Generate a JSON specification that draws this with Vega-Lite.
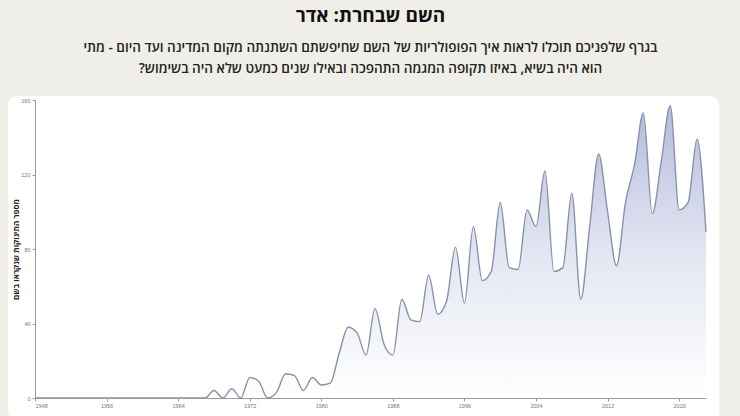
{
  "$schema": "https://vega.github.io/schema/vega-lite/v6.json",
  "autosize": "none",
  "width": 671,
  "height": 298,
  "padding": {"left": 35, "top": 100, "right": 34, "bottom": 18},
  "background": "#efeee8",
  "title": {
    "text": "השם שבחרת: אדר",
    "subtitle": [
      "בגרף שלפניכם תוכלו לראות איך הפופולריות של השם שחיפשתם השתנתה מקום המדינה ועד היום - מתי",
      "הוא היה בשיא, באיזו תקופה המגמה התהפכה ובאילו שנים כמעט שלא היה בשימוש?‏"
    ],
    "anchor": "middle",
    "font": "Open Sans, DejaVu Sans, sans-serif",
    "fontSize": 19,
    "fontWeight": "bold",
    "color": "#111111",
    "subtitleFont": "Open Sans, DejaVu Sans, sans-serif",
    "subtitleFontSize": 13.5,
    "subtitleFontWeight": 600,
    "subtitleColor": "#222222",
    "subtitleLineHeight": 21,
    "subtitlePadding": 15,
    "offset": 21
  },
  "data": {
    "values": [
      {"year": 1948, "count": 0}, {"year": 1949, "count": 0}, {"year": 1950, "count": 0},
      {"year": 1951, "count": 0}, {"year": 1952, "count": 0}, {"year": 1953, "count": 0},
      {"year": 1954, "count": 0}, {"year": 1955, "count": 0}, {"year": 1956, "count": 0},
      {"year": 1957, "count": 0}, {"year": 1958, "count": 0}, {"year": 1959, "count": 0},
      {"year": 1960, "count": 0}, {"year": 1961, "count": 0}, {"year": 1962, "count": 0},
      {"year": 1963, "count": 0}, {"year": 1964, "count": 0}, {"year": 1965, "count": 0},
      {"year": 1966, "count": 0}, {"year": 1967, "count": 0}, {"year": 1968, "count": 4},
      {"year": 1969, "count": 0}, {"year": 1970, "count": 5}, {"year": 1971, "count": 0},
      {"year": 1972, "count": 11}, {"year": 1973, "count": 9}, {"year": 1974, "count": 0},
      {"year": 1975, "count": 3}, {"year": 1976, "count": 13}, {"year": 1977, "count": 12},
      {"year": 1978, "count": 4}, {"year": 1979, "count": 11}, {"year": 1980, "count": 7},
      {"year": 1981, "count": 8}, {"year": 1982, "count": 24}, {"year": 1983, "count": 38},
      {"year": 1984, "count": 35}, {"year": 1985, "count": 23}, {"year": 1986, "count": 48},
      {"year": 1987, "count": 29}, {"year": 1988, "count": 23}, {"year": 1989, "count": 53},
      {"year": 1990, "count": 42}, {"year": 1991, "count": 41}, {"year": 1992, "count": 66},
      {"year": 1993, "count": 45}, {"year": 1994, "count": 52}, {"year": 1995, "count": 81},
      {"year": 1996, "count": 51}, {"year": 1997, "count": 92}, {"year": 1998, "count": 63},
      {"year": 1999, "count": 68}, {"year": 2000, "count": 105}, {"year": 2001, "count": 70},
      {"year": 2002, "count": 69}, {"year": 2003, "count": 101}, {"year": 2004, "count": 92},
      {"year": 2005, "count": 122}, {"year": 2006, "count": 68}, {"year": 2007, "count": 70},
      {"year": 2008, "count": 110}, {"year": 2009, "count": 53}, {"year": 2010, "count": 92},
      {"year": 2011, "count": 131}, {"year": 2012, "count": 100}, {"year": 2013, "count": 71},
      {"year": 2014, "count": 105}, {"year": 2015, "count": 125}, {"year": 2016, "count": 153},
      {"year": 2017, "count": 99}, {"year": 2018, "count": 127}, {"year": 2019, "count": 157},
      {"year": 2020, "count": 101}, {"year": 2021, "count": 105}, {"year": 2022, "count": 139},
      {"year": 2023, "count": 89}
    ]
  },
  "layer": [
    {
      "data": {"values": [{}]},
      "mark": {"type": "rect", "fill": "#ffffff", "cornerRadius": 9, "clip": false},
      "encoding": {
        "x": {"datum": 1945},
        "x2": {"datum": 2024.5},
        "y": {"datum": -12},
        "y2": {"datum": 162}
      }
    },
    {
      "mark": {
        "type": "area",
        "interpolate": "monotone",
        "color": {
          "gradient": "linear",
          "x1": 0, "y1": 0, "x2": 0, "y2": 1,
          "stops": [
            {"offset": 0, "color": "#b3bbdb"},
            {"offset": 0.5, "color": "#e3e6f2"},
            {"offset": 1, "color": "#ffffff"}
          ]
        }
      },
      "encoding": {
        "x": {"field": "year", "type": "quantitative"},
        "y": {"field": "count", "type": "quantitative"}
      }
    },
    {
      "mark": {"type": "line", "interpolate": "monotone", "color": "#8a92ab", "strokeWidth": 1.4},
      "encoding": {
        "x": {
          "field": "year",
          "type": "quantitative",
          "scale": {"domain": [1948, 2023], "nice": false, "zero": false},
          "axis": {
            "title": null,
            "values": [1948, 1956, 1964, 1972, 1980, 1988, 1996, 2004, 2012, 2020],
            "format": "d",
            "grid": false,
            "zindex": 1,
            "labelFontSize": 5.5,
            "labelColor": "#777777",
            "labelPadding": 2,
            "tickSize": 3,
            "tickColor": "#999999",
            "domainColor": "#999999"
          }
        },
        "y": {
          "field": "count",
          "type": "quantitative",
          "scale": {"domain": [0, 160], "nice": false},
          "axis": {
            "title": "מספר התינוקות שנקראו בשם",
            "values": [0, 40, 80, 120, 160],
            "grid": false,
            "zindex": 1,
            "labelFontSize": 5.5,
            "labelColor": "#777777",
            "labelPadding": 2,
            "tickSize": 3,
            "tickColor": "#999999",
            "domainColor": "#999999",
            "titleFont": "Open Sans, DejaVu Sans, sans-serif",
            "titleFontSize": 8,
            "titleFontWeight": "bold",
            "titleColor": "#222222",
            "titlePadding": 0
          }
        }
      }
    }
  ]
}
